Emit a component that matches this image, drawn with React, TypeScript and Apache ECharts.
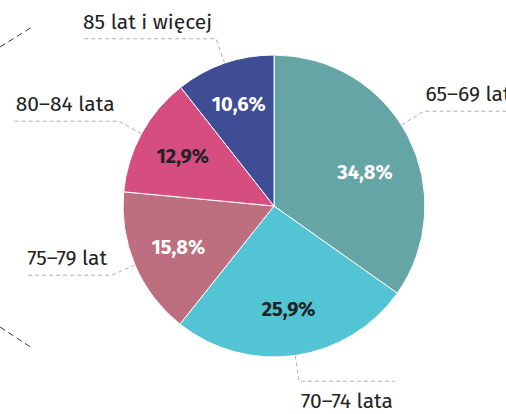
import React, { useEffect, useRef } from 'react';
import * as echarts from 'echarts';

// ---- data ----
const categories = ['65–69 lat', '70–74 lata', '75–79 lat', '80–84 lata', '85 lat i więcej'];
const values = [34.8, 25.9, 15.8, 12.9, 10.6];

// ---- styles ----
const sliceColors = ['#66a5a6', '#52c4d3', '#bd6f7f', '#d64d80', '#3f4d94'];
const percentColors = ['#ffffff', '#222222', '#ffffff', '#222222', '#ffffff'];
const outerAngleNudge = [5, 0, 0, 0, 0]; // degrees
const innerAngleNudge = [-7, 0, 0, 0, 0];
const innerRadius = [97, 104, 104, 104, 108];

const FONT = "'Fira Sans', 'Open Sans', sans-serif";
const CX = 274;
const CY = 206;
const R = 151;

function midAngleDeg(i: number): number {
  const total = values.reduce((a, b) => a + b, 0);
  let cum = 0;
  for (let k = 0; k < i; k++) cum += values[k];
  const start = 90 - (cum / total) * 360;
  return start - (values[i] / total) * 180;
}

export default function App() {
  const ref = useRef<HTMLDivElement>(null);
  useEffect(() => {
    if (!ref.current) return;
    const chart = echarts.init(ref.current, undefined, { renderer: 'svg' });
    const data = categories.map((name, i) => ({
      name,
      value: values[i],
      itemStyle: { color: sliceColors[i] },
      label: { color: percentColors[i] },
    }));
    const option: any = {
      animation: false,
      backgroundColor: '#ffffff',
      graphic: [
        {
          type: 'line',
          shape: { x1: 0, y1: 47, x2: 32, y2: 27 },
          style: { stroke: '#333', lineWidth: 1, lineDash: [6, 4] },
        },
        {
          type: 'line',
          shape: { x1: 0, y1: 327, x2: 32, y2: 348 },
          style: { stroke: '#333', lineWidth: 1, lineDash: [6, 4] },
        },
      ],
      series: [
        {
          type: 'pie',
          center: [CX, CY],
          radius: R,
          startAngle: 90,
          clockwise: true,
          silent: true,
          avoidLabelOverlap: false,
          emphasis: { disabled: true },
          itemStyle: { borderColor: '#ffffff', borderWidth: 1 },
          label: {
            show: true,
            position: 'inside',
            fontFamily: FONT,
            fontSize: 20,
            fontWeight: 'bold',
            formatter: (p: any) => p.value.toFixed(1).replace('.', ',') + '%',
          },
          labelLine: { show: false },
          labelLayout: (p: any) => {
            const i = p.dataIndex;
            const a = ((midAngleDeg(i) + innerAngleNudge[i]) * Math.PI) / 180;
            return {
              x: CX + innerRadius[i] * Math.cos(a),
              y: CY - innerRadius[i] * Math.sin(a),
              align: 'center',
              verticalAlign: 'middle',
            };
          },
          data,
        },
        {
          type: 'pie',
          center: [CX, CY],
          radius: R,
          startAngle: 90,
          clockwise: true,
          silent: true,
          avoidLabelOverlap: false,
          emphasis: { disabled: true },
          itemStyle: { color: 'rgba(0,0,0,0)' },
          label: {
            show: true,
            position: 'outside',
            fontFamily: FONT,
            fontSize: 21,
            color: '#222222',
            formatter: '{b}',
          },
          labelLine: {
            show: true,
            length: 25,
            length2: 40,
            lineStyle: { color: '#b0b0b0', width: 1, type: [4, 3] },
          },
          labelLayout: (p: any) => {
            const i = p.dataIndex;
            const a = ((midAngleDeg(i) + outerAngleNudge[i]) * Math.PI) / 180;
            const c = Math.cos(a);
            const s = Math.sin(a);
            const x0 = CX + R * c;
            const y0 = CY - R * s;
            const x1 = CX + (R + 26) * c;
            const y1 = CY - (R + 26) * s;
            const w = p.labelRect.width;
            const right = c >= 0;
            const below = s < -0.8;
            const x2 = right ? x1 + w + 4 : x1 - w - 6;
            return {
              x: right ? x1 + 2 : x1 - 4,
              y: below ? y1 + 20 : y1 - 17,
              align: right ? 'left' : 'right',
              verticalAlign: 'middle',
              labelLinePoints: [
                [x0, y0],
                [x1, y1],
                [x2, y1],
              ],
            };
          },
          data: categories.map((name, i) => ({ name, value: values[i] })),
        },
      ],
    };
    chart.setOption(option);
    return () => chart.dispose();
  }, []);
  return (
    <div
      ref={ref}
      style={{ position: 'absolute', left: 0, top: 0, width: 506, height: 414 }}
    />
  );
}
